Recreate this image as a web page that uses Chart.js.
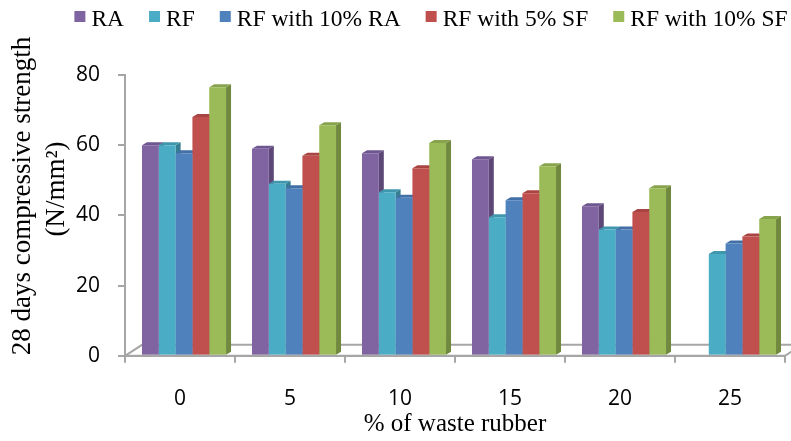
<!DOCTYPE html>
<html>
<head>
<meta charset="utf-8">
<script src="https://cdn.jsdelivr.net/npm/chart.js@4"></script>
<style>
  html, body { margin: 0; padding: 0; background: #fff; }
</style>
</head>
<body>
<canvas id="chart" width="791" height="441"></canvas>
<script>
// data
const categories = ['0', '5', '10', '15', '20', '25'];
const seriesNames = ['RA', 'RF', 'RF with 10% RA', 'RF with 5% SF', 'RF with 10% SF'];
const raValues     = [60, 59, 57.7, 56, 42.6, null];
const rfValues     = [60, 49, 46.6, 39.5, 36, 29];
const rf10raValues = [57.7, 47.7, 45, 44.3, 36, 32];
const rf5sfValues  = [68, 57, 53.4, 46.3, 41, 34];
const rf10sfValues = [76.5, 65.7, 60.6, 54, 47.7, 39];
const yTicks = [0, 20, 40, 60, 80];
const yTitle = ['28 days compressive strength', '(N/mm\u00B2)'];
const xTitle = '% of waste rubber';

// front / side / top colours of the 3d columns
const frontColors = ['#8064A2', '#4BACC6', '#4F81BD', '#C0504D', '#9BBB59'];
const sideColors  = ['#5C4776', '#357D91', '#385D8A', '#8C3836', '#71893F'];
const topColors   = ['#6E5690', '#3F97AE', '#416FA6', '#A84441', '#87A34C'];

const axisGray = '#A6A6A6';
const DX = 5, DY = 3;        // column depth
const FX = 17, FY = 11;      // floor depth
const SHIFT = 4;

const allValues = [raValues, rfValues, rf10raValues, rf5sfValues, rf10sfValues];

// floor, column sides and tops
const pseudo3d = {
  id: 'pseudo3d',
  beforeDatasetsDraw(chart) {
    const ctx = chart.ctx;
    const area = chart.chartArea;
    const y0 = chart.scales.y.getPixelForValue(0);
    ctx.save();
    ctx.strokeStyle = axisGray;
    ctx.lineWidth = 2;
    ctx.beginPath();
    ctx.moveTo(area.left, y0);
    ctx.lineTo(area.left + FX, y0 - FY);
    ctx.lineTo(area.right + FX, y0 - FY);
    ctx.moveTo(area.right, y0);
    ctx.lineTo(area.right + FX, y0 - FY);
    ctx.stroke();
    ctx.restore();

    ctx.save();
    ctx.translate(SHIFT, 0);
    chart.data.datasets.forEach((ds, i) => {
      const meta = chart.getDatasetMeta(i);
      meta.data.forEach((bar, j) => {
        if (ds.data[j] == null) return;
        const p = bar.getProps(['x', 'y', 'base', 'width'], true);
        const l = p.x - p.width / 2, r = p.x + p.width / 2;
        ctx.fillStyle = sideColors[i];
        ctx.beginPath();
        ctx.moveTo(r, p.y);
        ctx.lineTo(r + DX, p.y - DY);
        ctx.lineTo(r + DX, p.base - DY);
        ctx.lineTo(r, p.base);
        ctx.closePath();
        ctx.fill();
        ctx.fillStyle = topColors[i];
        ctx.beginPath();
        ctx.moveTo(l, p.y);
        ctx.lineTo(l + DX, p.y - DY);
        ctx.lineTo(r + DX, p.y - DY);
        ctx.lineTo(r, p.y);
        ctx.closePath();
        ctx.fill();
      });
    });
  },
  afterDatasetsDraw(chart) {
    const ctx = chart.ctx;
    ctx.restore();
    const area = chart.chartArea;
    const y0 = chart.scales.y.getPixelForValue(0);
    ctx.save();
    ctx.strokeStyle = axisGray;
    ctx.lineWidth = 2;
    ctx.beginPath();
    ctx.moveTo(area.left, y0);
    ctx.lineTo(area.right, y0);
    ctx.stroke();
    ctx.restore();
  }
};

// legend with small squares + the two-line y title
const extraText = {
  id: 'extraText',
  afterDraw(chart) {
    const ctx = chart.ctx;
    ctx.save();
    ctx.font = '23.5px "Liberation Serif"';
    const box = 11, g1 = 6, g2 = 25;
    const items = chart.data.datasets.map((d, i) => ({
      text: d.label, color: frontColors[i], w: ctx.measureText(d.label).width
    }));
    const total = items.reduce((s, it) => s + box + g1 + it.w, 0) + g2 * (items.length - 1);
    let x = 431 - total / 2;
    items.forEach(it => {
      ctx.fillStyle = it.color;
      ctx.fillRect(x, 11, box, box);
      ctx.fillStyle = '#000';
      ctx.textBaseline = 'alphabetic';
      ctx.fillText(it.text, x + box + g1, 25.5);
      x += box + g1 + it.w + g2;
    });
    ctx.restore();

    ctx.save();
    ctx.font = '27px "Liberation Serif"';
    ctx.fillStyle = '#000';
    ctx.textAlign = 'center';
    ctx.textBaseline = 'middle';
    ctx.translate(23, 196);
    ctx.rotate(-Math.PI / 2);
    ctx.fillText(yTitle[0], 0, 0);
    ctx.fillText(yTitle[1], 7, 34);
    ctx.restore();
  }
};

new Chart(document.getElementById('chart'), {
  type: 'bar',
  data: {
    labels: categories,
    datasets: seriesNames.map((name, i) => ({
      label: name,
      data: allValues[i],
      backgroundColor: frontColors[i],
      borderWidth: 0,
      categoryPercentage: 0.764,
      barPercentage: 1.0
    }))
  },
  options: {
    responsive: false,
    animation: false,
    layout: { padding: { top: 75, right: 6, left: 58, bottom: 0 } },
    plugins: {
      legend: { display: false },
      tooltip: { enabled: false }
    },
    scales: {
      x: {
        grid: { drawOnChartArea: false, color: axisGray, lineWidth: 2, tickLength: 7 },
        border: { color: axisGray, width: 2 },
        ticks: { color: '#000', padding: 24, font: { family: '"Open Sans"', size: 21 } },
        title: {
          display: true,
          text: xTitle,
          color: '#000',
          font: { family: '"Liberation Serif"', size: 25, lineHeight: 1.2 },
          padding: { top: -27, bottom: 2 }
        }
      },
      y: {
        min: 0,
        max: 80,
        afterBuildTicks: s => { s.ticks = yTicks.map(v => ({ value: v })); },
        grid: { drawOnChartArea: false, color: axisGray, lineWidth: 2, tickLength: 7 },
        border: { color: axisGray, width: 2 },
        ticks: { color: '#000', padding: 18, font: { family: '"Open Sans"', size: 21 } }
      }
    }
  },
  plugins: [pseudo3d, extraText]
});
</script>
</body>
</html>
